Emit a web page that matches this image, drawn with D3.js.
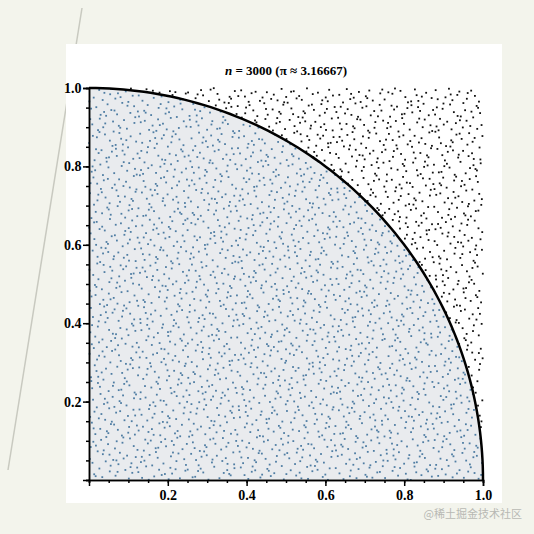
<!DOCTYPE html>
<html><head><meta charset="utf-8">
<script src="https://cdn.jsdelivr.net/npm/d3@7"></script>
<style>body{margin:0;background:#f3f4ec}</style></head>
<body><svg id="c" width="534" height="534"></svg>
<script>
const nPoints = 3000;
const titleN = "n";
const titleRest = " = 3000 (π ≈ 3.16667)";
const xTicks = [0.2, 0.4, 0.6, 0.8, 1.0];
const yTicks = [0.2, 0.4, 0.6, 0.8, 1.0];
const tickLabels = ["0.2", "0.4", "0.6", "0.8", "1.0"];
// Monte Carlo sample positions: deterministic Halton (bases 2,3) quasi-random sequence
function halton(i, b){let f=1,r=0;while(i>0){f/=b;r+=f*(i%b);i=Math.floor(i/b);}return r;}
const ptsX = d3.range(1, nPoints+1).map(i => halton(i,2));
const ptsY = d3.range(1, nPoints+1).map(i => halton(i,3));

const svg = d3.select("#c");
svg.append("line").attr("x1",82).attr("y1",8).attr("x2",8).attr("y2",470).attr("stroke","#c8c9c0").attr("stroke-width",1.5);
svg.append("rect").attr("x",66).attr("y",44).attr("width",436).attr("height",459).attr("fill","#fff");
const x = d3.scaleLinear().domain([0,1]).range([89,483]);
const y = d3.scaleLinear().domain([0,1]).range([480,88]);
const arc = d3.range(0,91).map(a => [Math.cos(a*Math.PI/180), Math.sin(a*Math.PI/180)]);
svg.append("path").attr("d", d3.line().x(d=>x(d[0])).y(d=>y(d[1]))([[0,0],...arc,[0,0]])).attr("fill","#e9ebee");
svg.append("g").selectAll("rect").data(d3.range(nPoints)).join("rect")
  .attr("x", i => x(ptsX[i])-0.9).attr("y", i => y(ptsY[i])-0.9).attr("width",1.8).attr("height",1.8)
  .attr("fill", i => ptsX[i]*ptsX[i]+ptsY[i]*ptsY[i] <= 1 ? "#4f7da3" : "#111");
svg.append("path").attr("d", d3.line().x(d=>x(d[0])).y(d=>y(d[1]))(arc)).attr("fill","none").attr("stroke","#000").attr("stroke-width",2.5);
const font = "Liberation Serif";
svg.append("g").attr("transform","translate(0,480)").call(d3.axisBottom(x).tickValues(d3.range(0,1.001,0.05)).tickSize(3).tickFormat(""));
svg.append("g").attr("transform","translate(0,480)").call(d3.axisBottom(x).tickValues(xTicks).tickSize(6).tickFormat((d,i)=>tickLabels[i]))
  .call(g=>g.selectAll("text").attr("font-family",font).attr("font-weight","bold").attr("font-size",14).attr("dy","0.75em"));
svg.append("g").attr("transform","translate(89,0)").call(d3.axisLeft(y).tickValues(d3.range(0,1.001,0.05)).tickSize(3).tickFormat(""));
svg.append("g").attr("transform","translate(89,0)").call(d3.axisLeft(y).tickValues(yTicks).tickSize(6).tickFormat((d,i)=>tickLabels[i]))
  .call(g=>g.selectAll("text").attr("font-family",font).attr("font-weight","bold").attr("font-size",14).attr("dx","0.1em"));
svg.selectAll(".domain").attr("stroke-width",1.5).attr("stroke","#000");
svg.selectAll(".tick line").attr("stroke","#000").attr("stroke-width",1.5);
const t = svg.append("text").attr("x",286).attr("y",75).attr("text-anchor","middle").attr("font-family",font).attr("font-weight","bold").attr("font-size",13);
t.append("tspan").attr("font-style","italic").text(titleN);
t.append("tspan").text(titleRest);
svg.append("text").attr("x",522).attr("y",518).attr("text-anchor","end").attr("font-family","Noto Sans CJK SC").attr("font-size",11).attr("fill","#b8b9b4").text("@稀土掘金技术社区");
</script></body></html>
